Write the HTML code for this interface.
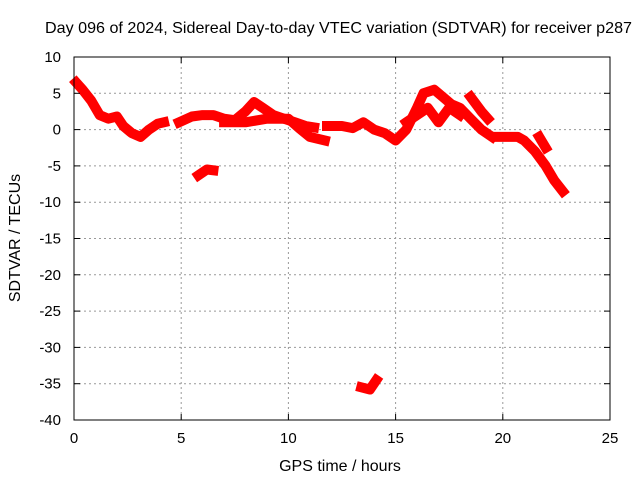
<!DOCTYPE html>
<html><head><meta charset="utf-8"><style>
body{margin:0;background:#fff}
svg{display:block;font-family:"Liberation Sans",sans-serif}
</style></head><body>
<svg id="chart" width="640" height="480">
<rect width="640" height="480" fill="#fff"/>
<g id="grid"></g>
<g id="marks"></g>
<rect x="74" y="57" width="536" height="363" fill="none" stroke="#000" stroke-width="1"/>
<g id="ticks"></g>
<text x="45" y="33" textLength="587" lengthAdjust="spacingAndGlyphs" font-size="16">Day 096 of 2024, Sidereal Day-to-day VTEC variation (SDTVAR) for receiver p287</text>
<text x="340" y="471" text-anchor="middle" font-size="16">GPS time / hours</text>
<text transform="translate(20,238) rotate(-90)" text-anchor="middle" font-size="16">SDTVAR / TECUs</text>
</svg>
<script>
const xTicks=[0,5,10,15,20,25];
const yTicks=[10,5,0,-5,-10,-15,-20,-25,-30,-35,-40];
const segTimes=[
 [0.1,0.4,0.8,1.2,1.6,2.0,2.3,2.7,3.1,3.5,3.9,4.2],
 [4.9,5.5,6.0,6.5,7.0,7.5,8.0,8.4,8.8,9.3,9.8,10.3,10.8,11.2],
 [7.0,8.0,9.0,10.0,10.5,11.0,11.7],
 [5.8,6.2,6.5],
 [13.4,13.8,14.1],
 [11.8,12.5,13.0,13.5,14.0,14.5,15.0,15.5,16.0,16.3,16.8,17.2,17.6,18.0,18.5,19.0,19.5],
 [15.5,16.0,16.5,17.0,17.5,18.0],
 [18.5,19.0,19.3],
 [19.7,20.2,20.7,21.0,21.5,22.0,22.4,22.8],
 [21.7,22.0]
];
const segValues=[
 [6.5,5.5,4,2,1.5,1.8,0.5,-0.5,-1,0,0.8,1],
 [1,1.8,2,2,1.5,1.3,2.5,3.8,3,2,1.5,1,0.5,0.3],
 [1,1,1.5,1.5,0.2,-1,-1.5],
 [-6.3,-5.5,-5.6],
 [-35.5,-35.8,-34.5],
 [0.5,0.5,0.2,1,0,-0.5,-1.5,0,3,5,5.5,4.5,3.5,3,1.5,0,-1],
 [1,2,3,1,3,2],
 [4.5,2.5,1.5],
 [-1,-1,-1,-1.5,-3,-5,-7,-8.5],
 [-1,-2.5]
];
const X=t=>74+t*(536/25);
const Y=v=>57+(10-v)*(363/50);
const NS="http://www.w3.org/2000/svg";
const grid=document.getElementById('grid'),ticks=document.getElementById('ticks'),marks=document.getElementById('marks');
function mk(tag,attrs,parent){const e=document.createElementNS(NS,tag);for(const k in attrs)e.setAttribute(k,attrs[k]);parent.appendChild(e);return e;}
xTicks.forEach(t=>{
 const x=X(t);
 if(t>0&&t<25){const l=mk('line',{x1:x,x2:x,y1:57,y2:420,stroke:'#999','stroke-dasharray':'2,3'},grid);
 
 }
 mk('line',{x1:x,x2:x,y1:420,y2:414,stroke:'#000'},ticks);
 mk('line',{x1:x,x2:x,y1:57,y2:63,stroke:'#000'},ticks);
 const tx=mk('text',{x:x,y:443,'text-anchor':'middle','font-size':15},ticks);
 tx.textContent=t;
 
 
});
yTicks.forEach(v=>{
 const y=Y(v);
 if(v<10&&v>-40){const l=mk('line',{x1:74,x2:610,y1:y,y2:y,stroke:'#999','stroke-dasharray':'2,3'},grid);
 
 }
 mk('line',{x1:74,x2:80,y1:y,y2:y,stroke:'#000'},ticks);
 mk('line',{x1:604,x2:610,y1:y,y2:y,stroke:'#000'},ticks);
 const tx=mk('text',{x:61,y:y+5,'text-anchor':'end','font-size':15},ticks);
 tx.textContent=v;
 
 
});
segTimes.forEach((ts,i)=>{
 const pts=ts.map((t,j)=>X(t).toFixed(1)+','+Y(segValues[i][j]).toFixed(1)).join(' ');
 const p=mk('polyline',{points:pts,fill:'none',stroke:'#f00','stroke-width':10,'stroke-linejoin':'round','stroke-linecap':'square'},marks);
 
 
});
</script>
</body></html>
